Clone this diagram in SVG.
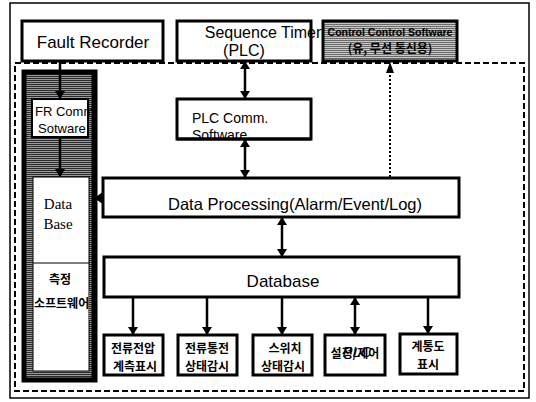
<svg xmlns="http://www.w3.org/2000/svg" width="536" height="402" viewBox="0 0 536 402">
<style>
.box{fill:#fff;stroke:#000;stroke-width:3}
.t{font-family:"Liberation Sans","Noto Sans CJK KR",sans-serif;fill:#000}
.k{font-family:"Noto Sans CJK KR","Liberation Sans",sans-serif;fill:#000;font-size:12px;font-weight:bold}
.s{font-family:"Liberation Serif",serif;fill:#000;font-size:15px}
.c{stroke:#000;stroke-width:2.5;fill:none}
</style>
<defs>
<pattern id="hatch" width="4" height="2" patternUnits="userSpaceOnUse">
<rect width="4" height="2" fill="#9a9a9a"/>
<rect width="4" height="1" fill="#2a2a2a"/>
</pattern>
<pattern id="hatch2" width="4" height="2" patternUnits="userSpaceOnUse">
<rect width="4" height="2" fill="#c8c8c8"/>
<rect width="4" height="1" fill="#6a6a6a"/>
</pattern>
<marker id="ah" markerWidth="8" markerHeight="12" refX="7" refY="6" orient="auto-start-reverse" markerUnits="userSpaceOnUse">
<path d="M0,1 L8,6 L0,11 Z" fill="#000"/>
</marker>
</defs>
<rect x="10" y="3" width="519" height="395" fill="#fff" stroke="#000" stroke-width="1.5"/>
<rect x="15" y="63" width="509" height="328" fill="none" stroke="#000" stroke-width="2" stroke-dasharray="6 3"/>

<g id="left-column">
<rect x="24" y="72" width="71" height="308" fill="url(#hatch)" stroke="#000" stroke-width="5"/>
<rect x="33" y="177" width="56" height="194" fill="#fff" stroke="#000" stroke-width="1"/>
<line x1="33" y1="263" x2="89" y2="263" stroke="#000" stroke-width="1"/>
<text class="s" x="58" y="209" text-anchor="middle">Data</text>
<text class="s" x="58" y="229" text-anchor="middle">Base</text>
<text class="k" x="60" y="284" font-size="13" text-anchor="middle">측정</text>
<text class="k" x="34" y="308" font-size="13">소프트웨어</text>
<rect x="89" y="290" width="6" height="30" fill="url(#hatch)"/>
<line x1="94" y1="72" x2="94" y2="380" stroke="#000" stroke-width="5"/>
</g>

<g id="fault-recorder">
<rect class="box" x="22" y="21" width="141" height="40"/>
<text class="t" x="93" y="48" font-size="17" text-anchor="middle">Fault Recorder</text>
</g>

<g id="control-software">
<rect x="323" y="21" width="134" height="40" fill="url(#hatch2)" stroke="#000" stroke-width="3"/>
<text class="t" x="390" y="36" font-size="10.5" font-weight="bold" text-anchor="middle">Control Control Software</text>
<text class="k" x="390" y="53" font-size="11" text-anchor="middle">(유, 무선 통신용)</text>
</g>

<g id="sequence-timer">
<rect class="box" x="177" y="21" width="134" height="40"/>
<text class="t" x="263" y="38" font-size="16" text-anchor="middle">Sequence Timer</text>
<text class="t" x="244" y="56" font-size="16" text-anchor="middle">(PLC)</text>
</g>

<g id="fr-comm">
<rect x="32" y="99" width="56" height="38" fill="#fff" stroke="#000" stroke-width="2"/>
<text class="t" x="35" y="116" font-size="13">FR Comm.</text>
<text class="t" x="38" y="133" font-size="13">Sotware</text>
</g>

<g id="plc-comm">
<rect class="box" x="177" y="99" width="134" height="40"/>
<text class="t" x="192" y="123" font-size="14">PLC Comm.</text>
<text class="t" x="192" y="140" font-size="14">Software</text>
<rect x="177" y="137.5" width="134" height="3" fill="#000"/>
</g>

<g id="data-processing">
<rect class="box" x="103" y="178" width="356" height="39"/>
<text class="t" x="295" y="210" font-size="16.5" text-anchor="middle">Data Processing(Alarm/Event/Log)</text>
</g>

<g id="database">
<rect class="box" x="104" y="257" width="355" height="40"/>
<text class="t" x="283" y="287" font-size="17" text-anchor="middle">Database</text>
</g>

<g id="box1">
<rect class="box" x="104" y="335" width="59" height="40"/>
<text class="k" x="133" y="353" text-anchor="middle">전류전압</text>
<text class="k" x="135" y="371" text-anchor="middle">계측표시</text>
</g>
<g id="box2">
<rect class="box" x="178" y="335" width="59" height="40"/>
<text class="k" x="207" y="353" text-anchor="middle">전류통전</text>
<text class="k" x="207" y="371" text-anchor="middle">상태감시</text>
</g>
<g id="box3">
<rect class="box" x="253" y="335" width="59" height="40"/>
<text class="k" x="285" y="353" text-anchor="middle">스위치</text>
<text class="k" x="283" y="371" text-anchor="middle">상태감시</text>
</g>
<g id="box4">
<rect class="box" x="325" y="335" width="60" height="40"/>
<text class="k" x="355" y="358" text-anchor="middle">설정/제어</text>
<text class="t" x="357" y="357" font-size="15" font-style="italic" text-anchor="middle">PLC</text>
</g>
<g id="box5">
<rect class="box" x="400" y="334" width="57" height="40"/>
<text class="k" x="428" y="351" text-anchor="middle">계통도</text>
<text class="k" x="428" y="369" text-anchor="middle">표시</text>
</g>

<g id="connectors">
<line class="c" x1="60" y1="61" x2="60" y2="98" marker-end="url(#ah)"/>
<line class="c" x1="60" y1="137" x2="60" y2="176" marker-end="url(#ah)"/>
<path d="M103,193 L96,198 L103,203 Z" fill="#000" stroke="#000" stroke-width="2"/>
<line class="c" x1="245" y1="62" x2="245" y2="98" marker-start="url(#ah)" marker-end="url(#ah)"/>
<line class="c" x1="245" y1="140" x2="245" y2="177" marker-start="url(#ah)" marker-end="url(#ah)"/>
<line x1="390" y1="177" x2="390" y2="70" stroke="#000" stroke-width="2" stroke-dasharray="2 2"/>
<path d="M386,73 L390,62 L394,73 Z" fill="#000"/>
<line class="c" x1="282" y1="218" x2="282" y2="256" marker-start="url(#ah)" marker-end="url(#ah)"/>
<line class="c" x1="133" y1="298" x2="133" y2="334" marker-end="url(#ah)"/>
<line class="c" x1="207" y1="298" x2="207" y2="334" marker-end="url(#ah)"/>
<line class="c" x1="282" y1="298" x2="282" y2="334" marker-end="url(#ah)"/>
<line class="c" x1="355" y1="298" x2="355" y2="334" marker-start="url(#ah)" marker-end="url(#ah)"/>
<line class="c" x1="428" y1="298" x2="428" y2="333" marker-end="url(#ah)"/>
</g>
</svg>
